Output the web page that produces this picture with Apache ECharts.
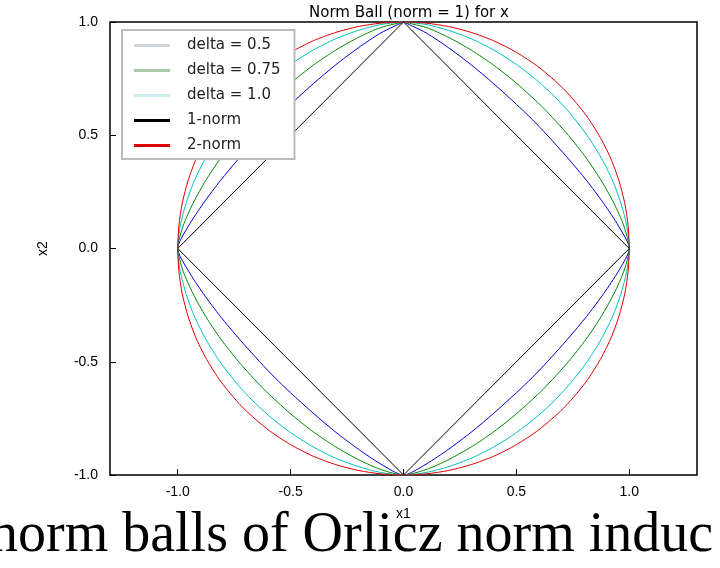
<!DOCTYPE html>
<html><head><meta charset="utf-8">
<script src="https://cdn.jsdelivr.net/npm/echarts@6/dist/echarts.min.js"></script>
<style>html,body{margin:0;padding:0;background:#fff}#c{width:720px;height:568px}</style>
</head><body><div id="c"></div>
<script>
// first-quadrant points (x, y)
const delta05 = [[0,1],[0.1,0.952],[0.2,0.886],[0.3,0.811],[0.4,0.727],[0.5,0.637],[0.57,0.57],[0.637,0.5],[0.727,0.4],[0.811,0.3],[0.886,0.2],[0.952,0.1],[1,0]];
const delta075 = [[0,1],[0.1,0.976],[0.2,0.932],[0.3,0.876],[0.4,0.809],[0.5,0.73],[0.62,0.62],[0.73,0.5],[0.809,0.4],[0.876,0.3],[0.932,0.2],[0.976,0.1],[1,0]];
const delta10 = [[0,1],[0.1,0.989],[0.2,0.963],[0.3,0.926],[0.4,0.876],[0.5,0.813],[0.6,0.735],[0.67,0.67],[0.735,0.6],[0.813,0.5],[0.876,0.4],[0.926,0.3],[0.963,0.2],[0.989,0.1],[1,0]];
const norm1 = [[0,1],[1,0]];
const norm2 = [[0,1],[0.1,0.995],[0.2,0.98],[0.3,0.954],[0.4,0.917],[0.5,0.866],[0.6,0.8],[0.707,0.707],[0.8,0.6],[0.866,0.5],[0.917,0.4],[0.954,0.3],[0.98,0.2],[0.995,0.1],[1,0]];
const tickValues = [-1.0,-0.5,0.0,0.5,1.0];

function full(q){ // mirror quadrant into closed curve
  const a=q.map(p=>[p[0],p[1]]);
  const b=q.slice().reverse().map(p=>[p[0],-p[1]]);
  const c=q.map(p=>[-p[0],-p[1]]);
  const d=q.slice().reverse().map(p=>[-p[0],p[1]]);
  return a.concat(b.slice(1),c.slice(1),d.slice(1));
}
const fmt=v=>v.toFixed(1);
function mk(name,q,color,smooth){return {name,type:'line',data:full(q),showSymbol:false,symbol:'none',smooth:smooth?0.25:false,lineStyle:{color,width:1},itemStyle:{color},z:2};}
const chart=echarts.init(document.getElementById('c'));
chart.setOption({
  animation:false,
  title:{text:'Norm Ball (norm = 1) for x',left:404,textAlign:'center',top:1,textStyle:{fontSize:15,fontWeight:'normal',color:'#000',fontFamily:'DejaVu Sans'}},
  grid:{left:110,right:23,top:22,bottom:93,show:true,borderColor:'#000',borderWidth:1.5},
  legend:{orient:'vertical',left:122,top:30,itemGap:10,itemWidth:36,itemHeight:3,icon:'rect',
    backgroundColor:'#fff',borderColor:'#bbb',borderWidth:2,padding:[8,14,6,12],
    textStyle:{fontSize:15,color:'#222',fontFamily:'DejaVu Sans',padding:[0,0,0,12]},
    data:[{name:'delta = 0.5',itemStyle:{color:'#cfd6dc'}},
          {name:'delta = 0.75',itemStyle:{color:'#a9c9a9'}},
          {name:'delta = 1.0',itemStyle:{color:'#cdeff0'}},
          {name:'1-norm'},{name:'2-norm'}]},
  xAxis:{type:'value',min:-1.3,max:1.3,name:'x1',nameLocation:'middle',nameGap:32,
    nameTextStyle:{fontSize:14,color:'#000'},
    axisLine:{show:false,onZero:false},splitLine:{show:false},
    axisTick:{inside:true,length:6,customValues:tickValues,lineStyle:{color:'#000'}},
    axisLabel:{customValues:tickValues,formatter:fmt,fontSize:14,color:'#000',margin:10}},
  yAxis:{type:'value',min:-1,max:1,name:'x2',nameLocation:'middle',nameGap:60,
    nameTextStyle:{fontSize:14,color:'#000'},
    axisLine:{show:false,onZero:false},splitLine:{show:false},
    axisTick:{inside:true,length:6,customValues:tickValues,lineStyle:{color:'#000'}},
    axisLabel:{customValues:tickValues,formatter:fmt,fontSize:14,color:'#000',margin:12}},
  series:[mk('delta = 0.5',delta05,'#0000cc',true),mk('delta = 0.75',delta075,'#008800',true),
    mk('delta = 1.0',delta10,'#00bfbf',true),mk('1-norm',norm1,'#000',false),mk('2-norm',norm2,'#dd0000',true)],
  graphic:[{type:'text',left:-10,top:508,style:{text:'norm balls of Orlicz norm induc',fontSize:56,fontFamily:'Liberation Serif',fill:'#000'}}]
});
</script></body></html>
